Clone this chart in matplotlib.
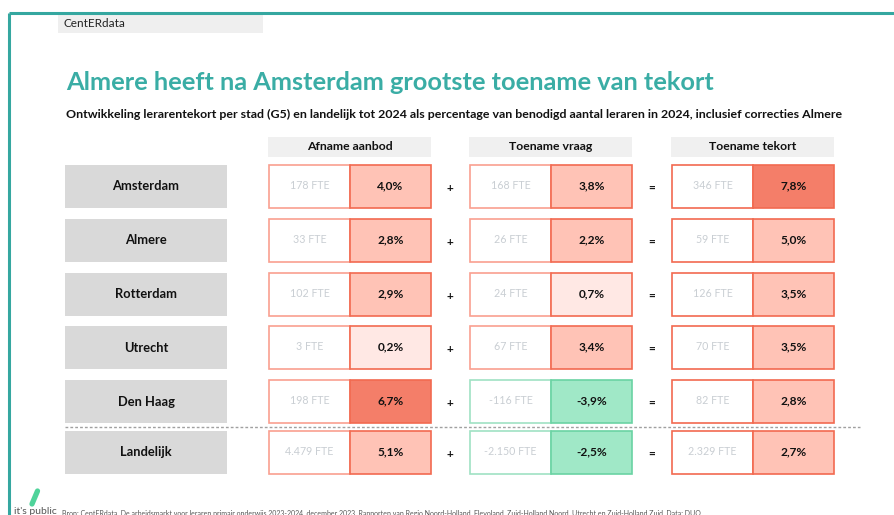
import matplotlib.pyplot as plt
from matplotlib.patches import Rectangle

plt.rcParams['font.family'] = ['Lato', 'DejaVu Sans']

# data
cities = ['Amsterdam', 'Almere', 'Rotterdam', 'Utrecht', 'Den Haag', 'Landelijk']
headers = ['Afname aanbod', 'Toename vraag', 'Toename tekort']
aanbod_fte = ['178', '33', '102', '3', '198', '4.479']
aanbod_pct = [4.0, 2.8, 2.9, 0.2, 6.7, 5.1]
vraag_fte = ['168', '26', '24', '67', '-116', '-2.150']
vraag_pct = [3.8, 2.2, 0.7, 3.4, -3.9, -2.5]
tekort_fte = ['346', '59', '126', '70', '82', '2.329']
tekort_pct = [7.8, 5.0, 3.5, 3.5, 2.8, 2.7]

teal = '#35A7A0'
row_tops = [165, 219, 273, 326, 380, 431]
row_h = 43
group_x = [269, 470, 672]
half_w = 81


def fill_color(v):
    # fill, border, lighter border
    if v < 0:
        return '#A0E8C7', '#6AD3A3', '#9FE2C3'
    if v >= 6:
        return '#F47E69', '#F26A50', '#F9A090'
    if v >= 1:
        return '#FFC3B6', '#F26A50', '#F9A090'
    return '#FFE8E4', '#F26A50', '#F9A090'


fig = plt.figure(figsize=(8.94, 5.15), dpi=100)
ax = fig.add_axes([0, 0, 1, 1])
ax.set_xlim(0, 894)
ax.set_ylim(515, 0)
ax.axis('off')

# frame lines
ax.plot([9, 9], [13, 515], color=teal, lw=2.2, solid_capstyle='butt')
ax.plot([9, 894], [13, 13], color=teal, lw=2.2, solid_capstyle='butt')

ax.add_patch(Rectangle((58, 14), 205, 19, facecolor='#EFEFEF', edgecolor='none'))
ax.text(63, 23.5, 'CentERdata', fontsize=8.5, va='center', color='#222222')

ax.text(66, 83, 'Almere heeft na Amsterdam grootste toename van tekort',
        fontsize=18.3, fontweight='bold', color='#3AADA5', va='center')
ax.text(66, 114, 'Ontwikkeling lerarentekort per stad (G5) en landelijk tot 2024 als percentage '
        'van benodigd aantal leraren in 2024, inclusief correcties Almere',
        fontsize=8.9, fontweight='bold', color='#111111', va='center')

# column headers
for gx, h in zip(group_x, headers):
    ax.add_patch(Rectangle((gx - 1, 137), 2 * half_w + 1, 20, facecolor='#F0F0F0', edgecolor='none'))
    ax.text(gx + half_w, 147, h, fontsize=8.8, fontweight='bold', ha='center', va='center', color='#111111')

columns = [(aanbod_fte, aanbod_pct), (vraag_fte, vraag_pct), (tekort_fte, tekort_pct)]

for i, city in enumerate(cities):
    top = row_tops[i]
    cy = top + row_h / 2
    ax.add_patch(Rectangle((65, top), 162, row_h, facecolor='#D9D9D9', edgecolor='none'))
    ax.text(146, cy, city, fontsize=9.3, fontweight='bold', ha='center', va='center', color='#111111')
    for j, (ftes, pcts) in enumerate(columns):
        gx = group_x[j]
        v = pcts[i]
        fc, ec, ec_light = fill_color(v)
        fte_ec = ec_light if j < 2 or v < 0 else ec
        ax.add_patch(Rectangle((gx, top), half_w, row_h, facecolor='white', edgecolor=fte_ec, lw=1.2))
        ax.add_patch(Rectangle((gx + half_w, top), half_w, row_h, facecolor=fc, edgecolor=ec, lw=1.2))
        ax.text(gx + half_w / 2, cy - 1, f'{ftes[i]} FTE', fontsize=7.7, ha='center', va='center',
                color='#C9CED3')
        ax.text(gx + 1.5 * half_w, cy - 1, f'{v:.1f}%'.replace('.', ','), fontsize=8.6,
                fontweight='bold', ha='center', va='center', color='#111111')
    ax.text(450, cy + 2, '+', fontsize=8.5, fontweight='bold', ha='center', va='center', color='#111111')
    ax.text(652, cy + 2, '=', fontsize=8.5, fontweight='bold', ha='center', va='center', color='#111111')

ax.plot([65, 860], [427, 427], color='#A0A0A0', lw=1, ls=(0, (2, 1.5)))

# footer
ax.plot([32, 37.5], [504, 491], color='#4FD39A', lw=3.8, solid_capstyle='round')
ax.text(14, 511, "it's public", fontsize=7.5, color='#555555', va='center')
ax.text(62, 513, 'Bron: CentERdata, De arbeidsmarkt voor leraren primair onderwijs 2023-2024, december 2023. '
        'Rapporten van Regio Noord-Holland, Flevoland, Zuid-Holland Noord, Utrecht en Zuid-Holland Zuid. Data: DUO',
        fontsize=5.0, color='#555555', va='center')

fig.savefig('out.png', dpi=100)
